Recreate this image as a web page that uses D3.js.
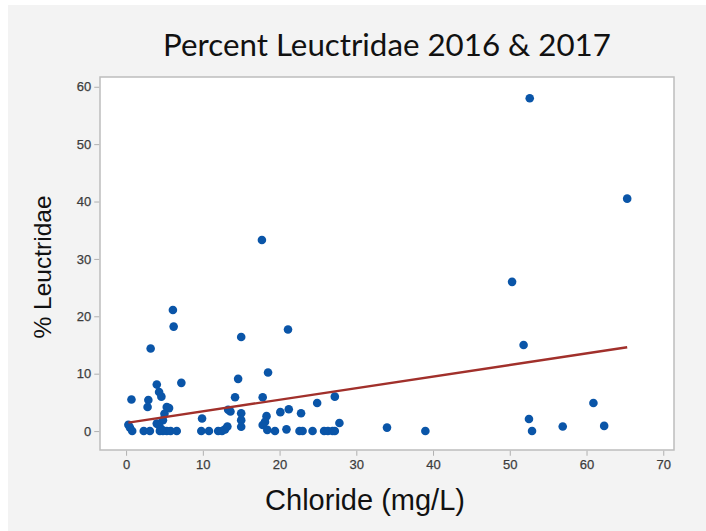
<!DOCTYPE html>
<html><head><meta charset="utf-8">
<script src="https://cdn.jsdelivr.net/npm/d3@7"></script>
<style>html,body{margin:0;padding:0;background:#fff;}svg{display:block;}</style>
</head><body>
<svg id="chart" width="706" height="531"></svg>
<script>
// Data
const chloride = [0.7,0.3,0.5,0.8, 3.2,2.9,2.8,2.3,3.1, 4.0,4.3,4.6,5.3,5.6,5.0,4.8,4.0,4.3, 4.4,4.8,5.3,5.8,6.6,4.6,
  6.1,6.2,7.2, 9.9,9.8,10.8,12.0,12.5,12.9,13.2, 13.3,13.6,14.2,14.6,15.0,15.0,15.0,15.0,
  17.7,17.8,18.5,18.3,18.1,17.8,18.4,19.4, 20.1,21.1,21.2,20.9,22.6,22.8,23.0,24.3,24.9,25.8,26.3,26.9,27.2,27.2,27.8,
  34.0,39.0, 50.3,51.8,52.5,52.9,56.9,60.9,62.3,52.6,65.3];
const leuctridae = [5.5,1.1,0.6,0, 14.4,5.4,4.2,0,0, 8.1,6.8,6.0,4.2,4.0,3.0,1.9,1.3,1.0, 0,0,0,0,0,0.3,
  21.1,18.2,8.4, 2.2,0,0,0,0,0.3,0.8, 3.7,3.4,5.9,9.1,16.4,3.1,1.9,0.75,
  33.3,5.9,10.2,2.6,1.6,1.05,0.2,0, 3.3,17.7,3.8,0.3,0,3.1,0,0,4.9,0,0,0,0,6.0,1.4,
  0.6,0, 26.0,15.0,2.1,0,0.8,4.9,0.9,58.0,40.5];
const fitStartX = 0.3, fitEndX = 65.3;
const fitIntercept = 1.42, fitSlope = 0.202;
const xTicks = [0,10,20,30,40,50,60,70];
const yTicks = [0,10,20,30,40,50,60];
const titleText = "Percent Leuctridae 2016 & 2017";
const xLabel = "Chloride (mg/L)";
const yLabel = "% Leuctridae";

const svg = d3.select("#chart");
svg.append("rect").attr("x",8).attr("y",5).attr("width",698).attr("height",526).attr("fill","#f3f3f3");

const L=100, R=674, T=77, B=450;
const x = d3.scaleLinear().domain([-3.4, 71.4]).range([L, R]);
const y = d3.scaleLinear().domain([-3.3, 61.7]).range([B, T]);

svg.append("rect").attr("x",L).attr("y",T).attr("width",R-L).attr("height",B-T)
  .attr("fill","#fff").attr("stroke","#bdbdbd").attr("stroke-width",1.5);

const xAxis = svg.append("g").attr("transform",`translate(0,${B+0.75})`)
  .call(d3.axisBottom(x).tickValues(xTicks).tickSize(5).tickSizeOuter(0).tickPadding(4));
const yAxis = svg.append("g").attr("transform",`translate(${L-0.75},0)`)
  .call(d3.axisLeft(y).tickValues(yTicks).tickSize(5).tickSizeOuter(0).tickPadding(3));
[xAxis,yAxis].forEach(a=>{
  a.select(".domain").remove();
  a.selectAll("line").attr("stroke","#b0b0b0");
  a.selectAll("text").attr("fill","#3c3c3c").style("font-family","'Liberation Sans', Arial, sans-serif").style("font-size","13px")
    .attr("stroke","#3c3c3c").attr("stroke-width",0.25);
});

const g = svg.append("g");
g.selectAll("circle").data(chloride.map((c,i)=>[c,leuctridae[i]])).join("circle")
  .attr("cx",d=>x(d[0])).attr("cy",d=>y(d[1])).attr("r",4.3).attr("fill","#0a55a8");

svg.append("line")
  .attr("x1",x(fitStartX)).attr("y1",y(fitIntercept+fitSlope*fitStartX))
  .attr("x2",x(fitEndX)).attr("y2",y(fitIntercept+fitSlope*fitEndX))
  .attr("stroke","#a1302b").attr("stroke-width",2.4);

const t = svg.append("text").attr("x",387).attr("y",56).attr("text-anchor","middle")
  .style("font-family","Lato, 'Open Sans', sans-serif").style("font-size","28px").attr("fill","#111").text(titleText);
const tw = t.node().getComputedTextLength();
t.style("font-size",(28*448/tw)+"px");

svg.append("text").attr("x",365).attr("y",510).attr("text-anchor","middle")
  .style("font-family","'Liberation Sans', Arial, sans-serif").style("font-size","29px").attr("fill","#111").text(xLabel);

svg.append("text").attr("transform","translate(51,267) rotate(-90)").attr("text-anchor","middle")
  .style("font-family","'Liberation Sans', Arial, sans-serif").style("font-size","24.5px").attr("fill","#111").text(yLabel);
</script>
</body></html>
